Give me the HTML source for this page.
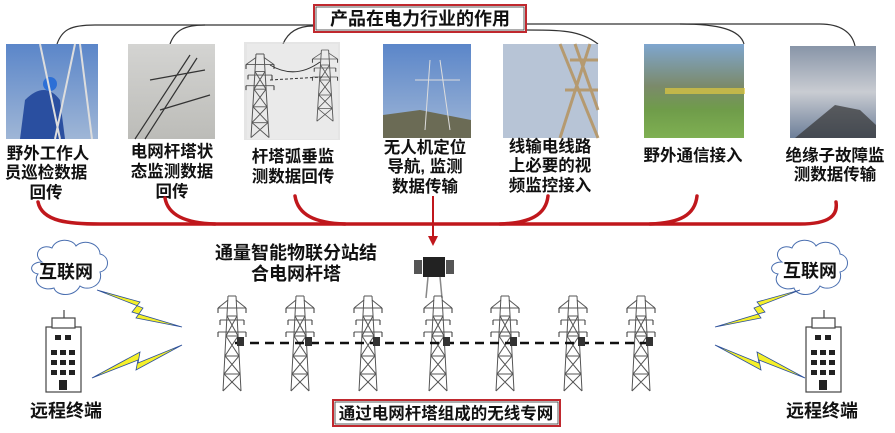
<!DOCTYPE html>
<html><head><meta charset="utf-8"><style>
html,body{margin:0;padding:0;background:#fff;}
svg{display:block;}
text{font-family:"Liberation Sans","Noto Sans CJK SC",sans-serif;font-weight:bold;fill:#111;}
</style></head><body>
<svg width="895" height="433" viewBox="0 0 895 433" xmlns="http://www.w3.org/2000/svg">
<defs>
<linearGradient id="sky" x1="0" y1="0" x2="0" y2="1"><stop offset="0" stop-color="#5b86c9"/><stop offset="1" stop-color="#9fb6d6"/></linearGradient>
<linearGradient id="grey" x1="0" y1="0" x2="0" y2="1"><stop offset="0" stop-color="#d4d4d2"/><stop offset="1" stop-color="#bcbcb8"/></linearGradient>
<linearGradient id="mtn" x1="0" y1="0" x2="0" y2="1"><stop offset="0" stop-color="#7fa6cf"/><stop offset=".45" stop-color="#7b8a6a"/><stop offset=".7" stop-color="#6f9c4a"/><stop offset="1" stop-color="#7fb052"/></linearGradient>
<linearGradient id="cloud" x1="0" y1="0" x2="0" y2="1"><stop offset="0" stop-color="#8895a8"/><stop offset=".5" stop-color="#c9ccd2"/><stop offset="1" stop-color="#6d7f99"/></linearGradient>
<g id="tower" stroke="#555" stroke-width="1" fill="none">
<path d="M-4 0 L-9 95 M4 0 L9 95 M-4 0 L4 0 M-5 20 L5 20 M-6 40 L6 40 M-7 60 L7 60 M-8 78 L8 78 M-5 20 L6 40 L-7 60 L8 78 L-9 95 M5 20 L-6 40 L7 60 L-8 78 L9 95"/>
<path d="M-14 12 L14 12 M-12 24 L12 24 M-14 36 L14 36 M-14 12 L-4 4 M14 12 L4 4"/>
<path d="M-14 12 v5 M14 12 v5 M-12 24 v5 M12 24 v5 M-14 36 v5 M14 36 v5" stroke="#333"/>
</g>
</defs>

<g stroke="#333" stroke-width="1.2" fill="none">
<path d="M57 44 C62 30 70 25 95 25 L313 25"/>
<path d="M170 44 C175 30 185 25 205 25"/>
<path d="M283 44 C288 32 298 26 313 26"/>
<path d="M526 24 L680 24 C720 24 740 30 744 44"/>
<path d="M680 24 L820 24 C840 24 852 32 855 46"/>
<path d="M526 30 C560 30 580 30 598 44"/>
</g>

<rect x="314" y="5" width="212" height="27" fill="#fff" stroke="#c0282e" stroke-width="2"/>
<rect x="316" y="7" width="208" height="23" fill="none" stroke="#333" stroke-width="0.8"/>
<text x="420" y="25" font-size="18" text-anchor="middle">产品在电力行业的作用</text>

<rect x="6" y="44" width="92" height="95" fill="url(#sky)"/>
<path d="M20 139 L25 100 Q45 80 60 100 L65 139Z" fill="#2a4fa0"/>
<circle cx="50" cy="84" r="7" fill="#2c6fd6"/>
<path d="M40 44 L60 139 M75 44 L55 139 M80 44 L92 139" stroke="#ddd" stroke-width="2"/>
<rect x="128" y="44" width="87" height="95" fill="url(#grey)"/>
<path d="M135 139 L190 55 M145 139 L197 58 M150 80 L205 70 M160 110 L210 95" stroke="#333" stroke-width="1.2" fill="none"/>
<rect x="244" y="42" width="96" height="98" fill="#ccc" opacity=".5"/>
<rect x="247" y="44" width="91" height="95" fill="#eaeaea"/>
<use href="#tower" transform="translate(260,54) scale(1,0.88)"/>
<use href="#tower" transform="translate(325,50) scale(0.9,0.75)"/>
<path d="M270 80 L322 77" stroke="#333" stroke-dasharray="3 2"/>
<path d="M270 65 Q295 80 320 62" stroke="#333" fill="none"/>
<rect x="383" y="44" width="88" height="94" fill="url(#sky)"/>
<path d="M383 115 L420 110 L471 120 L471 138 L383 138Z" fill="#6b6b55"/>
<path d="M430 60 L425 130 M440 60 L450 130 M415 80 L460 80" stroke="#ddd" stroke-width="1"/>
<rect x="503" y="44" width="95" height="94" fill="#b7c4d6"/>
<path d="M560 44 L598 138 M590 44 L560 138 M570 60 L598 60 M565 90 L598 90 M575 44 L598 110" stroke="#b59a70" stroke-width="3"/>
<rect x="644" y="44" width="100" height="94" fill="url(#mtn)"/>
<rect x="665" y="88" width="80" height="6" fill="#e0c840" opacity=".7"/>
<rect x="790" y="46" width="86" height="92" fill="url(#cloud)"/>
<path d="M795 138 L835 105 L860 110 L876 125 L876 138Z" fill="#333" opacity=".7"/>

<g font-size="16.5">
<text x="48" y="159" text-anchor="middle">野外工作人</text>
<text x="46" y="178" text-anchor="middle">员巡检数据</text>
<text x="46" y="198" text-anchor="middle">回传</text>
<text x="172" y="157" text-anchor="middle">电网杆塔状</text>
<text x="172" y="177" text-anchor="middle">态监测数据</text>
<text x="172" y="197" text-anchor="middle">回传</text>
<text x="293" y="162" text-anchor="middle">杆塔弧垂监</text>
<text x="293" y="182" text-anchor="middle">测数据回传</text>
<text x="425" y="153" text-anchor="middle">无人机定位</text>
<text x="425" y="172" text-anchor="middle">导航, 监测</text>
<text x="425" y="192" text-anchor="middle">数据传输</text>
<text x="550" y="152" text-anchor="middle">线输电线路</text>
<text x="550" y="171" text-anchor="middle">上必要的视</text>
<text x="550" y="191" text-anchor="middle">频监控接入</text>
<text x="693" y="161" text-anchor="middle">野外通信接入</text>
<text x="835" y="161" text-anchor="middle">绝缘子故障监</text>
<text x="835" y="180" text-anchor="middle">测数据传输</text>
</g>

<g stroke="#c0171c" stroke-width="3.5" fill="none" stroke-linecap="round">
<path d="M38 202 C42 222 70 224 100 224 L800 224 C830 224 838 215 836 202"/>
<path d="M165 198 C168 215 185 223 215 224"/>
<path d="M295 196 C298 215 315 223 345 224"/>
<path d="M548 196 C546 215 530 223 500 224"/>
<path d="M697 196 C695 215 680 223 650 224"/>
</g>
<path d="M433 196 L433 238" stroke="#c0171c" stroke-width="2"/>
<path d="M428 236 L433 246 L438 236Z" fill="#c0171c"/>

<g fill="#fff" stroke="#4a6fb0" stroke-width="1">
<path d="M42 262 C32 255 40 243 52 248 C56 238 72 238 76 246 C84 238 100 244 100 254 C110 256 110 270 100 272 C104 285 88 292 80 286 C74 298 56 296 54 288 C42 292 32 282 38 274 C28 272 30 262 42 262Z"/>
<path d="M782 262 C772 255 780 243 792 248 C796 238 812 238 816 246 C824 238 840 244 840 254 C850 256 850 270 840 272 C844 285 828 292 820 286 C814 298 796 296 794 288 C782 292 772 282 778 274 C768 272 770 262 782 262Z"/>
</g>
<text x="66" y="278" font-size="18" text-anchor="middle">互联网</text>
<text x="810" y="277" font-size="18" text-anchor="middle">互联网</text>

<g fill="#f5f02a" stroke="#2b4f9a" stroke-width="0.8">
<path d="M97 290 L140 302 L132 312 L182 327 L136 318 L143 308Z"/>
<path d="M92 378 L140 352 L138 363 L182 345 L136 370 L138 360Z"/>
<path d="M800 290 L757 302 L765 312 L715 327 L761 318 L754 308Z"/>
<path d="M805 378 L757 352 L759 363 L715 345 L761 370 L759 360Z"/>
</g>

<g fill="#fff" stroke="#444" stroke-width="1.2">
<rect x="46" y="327" width="35" height="65"/><rect x="52" y="318" width="23" height="10"/><line x1="64" y1="310" x2="64" y2="318"/>
<rect x="806" y="327" width="35" height="65"/><rect x="812" y="318" width="23" height="10"/><line x1="824" y1="310" x2="824" y2="318"/>
</g>
<g fill="#222">
<rect x="55" y="335" width="6" height="5"/><rect x="65" y="335" width="6" height="5"/>
<rect x="51" y="350" width="6" height="5"/><rect x="60" y="350" width="6" height="5"/><rect x="69" y="350" width="6" height="5"/>
<rect x="51" y="360" width="6" height="5"/><rect x="60" y="360" width="6" height="5"/><rect x="69" y="360" width="6" height="5"/>
<rect x="51" y="370" width="6" height="5"/><rect x="60" y="370" width="6" height="5"/><rect x="69" y="370" width="6" height="5"/>
<rect x="59" y="380" width="8" height="10"/>
<rect x="815" y="335" width="6" height="5"/><rect x="825" y="335" width="6" height="5"/>
<rect x="811" y="350" width="6" height="5"/><rect x="820" y="350" width="6" height="5"/><rect x="829" y="350" width="6" height="5"/>
<rect x="811" y="360" width="6" height="5"/><rect x="820" y="360" width="6" height="5"/><rect x="829" y="360" width="6" height="5"/>
<rect x="811" y="370" width="6" height="5"/><rect x="820" y="370" width="6" height="5"/><rect x="829" y="370" width="6" height="5"/>
<rect x="819" y="380" width="8" height="10"/>
</g>
<text x="66" y="417" font-size="18" text-anchor="middle">远程终端</text>
<text x="822" y="417" font-size="18" text-anchor="middle">远程终端</text>

<text x="296" y="259" font-size="18" text-anchor="middle">通量智能物联分站结</text>
<text x="296" y="280" font-size="18" text-anchor="middle">合电网杆塔</text>

<g>
<rect x="423" y="257" width="22" height="20" fill="#222"/>
<rect x="414" y="260" width="8" height="14" fill="#555"/>
<rect x="446" y="260" width="8" height="14" fill="#555"/>
<path d="M428 277 L426 298 M440 277 L442 298" stroke="#888" stroke-width="1.5"/>
</g>

<use href="#tower" transform="translate(232,296)"/>
<use href="#tower" transform="translate(300,296)"/>
<use href="#tower" transform="translate(368,296)"/>
<use href="#tower" transform="translate(438,296)"/>
<use href="#tower" transform="translate(505,296)"/>
<use href="#tower" transform="translate(573,296)"/>
<use href="#tower" transform="translate(641,296)"/>
<path d="M235 343 L650 343" stroke="#111" stroke-width="2.5" stroke-dasharray="9 6"/>
<g fill="#333">
<rect x="237" y="337" width="7" height="9"/><rect x="305" y="337" width="7" height="9"/><rect x="373" y="337" width="7" height="9"/>
<rect x="443" y="337" width="7" height="9"/><rect x="510" y="337" width="7" height="9"/><rect x="578" y="337" width="7" height="9"/><rect x="646" y="337" width="7" height="9"/>
</g>

<rect x="333" y="400" width="227" height="26" fill="#fff" stroke="#c0282e" stroke-width="2"/>
<rect x="335" y="402" width="223" height="22" fill="none" stroke="#333" stroke-width="0.8"/>
<text x="446" y="419" font-size="16.5" text-anchor="middle">通过电网杆塔组成的无线专网</text>
</svg>
</body></html>
